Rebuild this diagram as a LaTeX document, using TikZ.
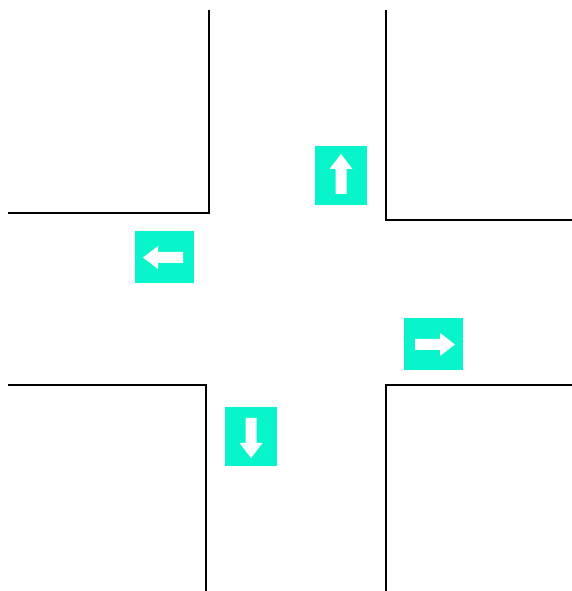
\documentclass[tikz,border=0pt]{standalone}
\usepackage{tikz}
\definecolor{signbg}{RGB}{8,245,204}

\begin{document}
\begin{tikzpicture}[
    x=1pt, y=1pt,
    kerb/.style={draw=black, line width=1.6pt},
    sign/.pic={
      \fill[signbg] (-26,-29.5) rectangle (26,29.5);
      \fill[white] (-5.5,-18.5) -- (-5.5,6.5) -- (-11.5,6.5) -- (0,21.5)
                   -- (11.5,6.5) -- (5.5,6.5) -- (5.5,-18.5) -- cycle;
    }
]
\useasboundingbox (0,0) rectangle (572,591);
% kerbs of the crossing
\draw[kerb] (8,378) -- (209,378) -- (209,581);
\draw[kerb] (386,581) -- (386,371) -- (572,371);
\draw[kerb] (8,206) -- (206,206) -- (206,0);
\draw[kerb] (572,206) -- (386,206) -- (386,0);
% direction signs
\pic (north) at (341,415.5) {sign};
\pic[rotate=90] (west) at (164.5,333.5) {sign};
\pic[rotate=-90] (east) at (433.5,246.5) {sign};
\pic[rotate=180] (south) at (251,154.5) {sign};
\end{tikzpicture}
\end{document}
